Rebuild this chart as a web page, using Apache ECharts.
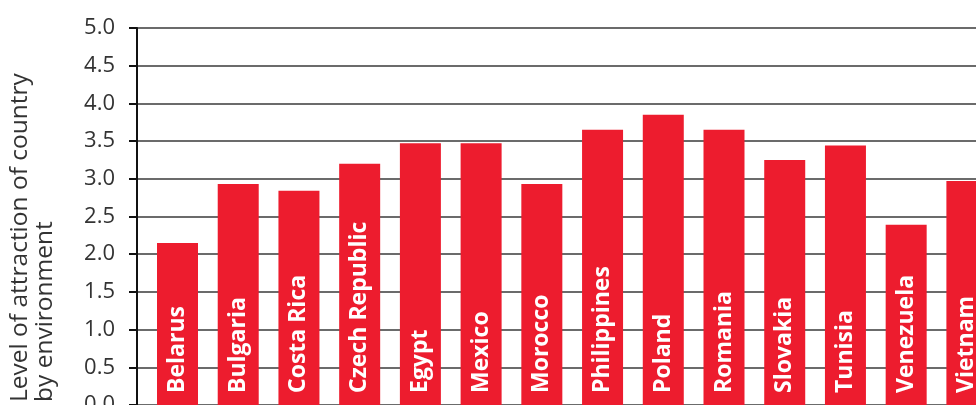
<!DOCTYPE html>
<html>
<head>
<meta charset="utf-8">
<script src="https://cdn.jsdelivr.net/npm/echarts@6/dist/echarts.min.js"></script>
<style>
    html, body { margin: 0; padding: 0; background: #fff; }
    #chart { width: 976px; height: 405px; }
</style>
</head>
<body>
<div id="chart"></div>
<script>
// Data
const countries = ['Belarus', 'Bulgaria', 'Costa Rica', 'Czech Republic', 'Egypt', 'Mexico', 'Morocco',
    'Philippines', 'Poland', 'Romania', 'Slovakia', 'Tunisia', 'Venezuela', 'Vietnam'];
const attraction = [2.15, 2.93, 2.84, 3.20, 3.47, 3.47, 2.93, 3.65, 3.85, 3.65, 3.25, 3.44, 2.39, 2.97];
const yTitle = ['Level of attraction of country', 'by environment'];

const barColor = '#ed1c2e';
const textColor = '#333';
const fontFamily = '"Open Sans", "Noto Sans", sans-serif';

let myChart = echarts.init(document.getElementById('chart'));

const option = {
    backgroundColor: '#fff',
    animation: false,
    grid: { left: 137, right: 0, top: 28, bottom: 0, containLabel: false, outerBoundsMode: 'none' },
    graphic: [{
        type: 'text',
        x: 8,
        y: 402,
        rotation: Math.PI / 2,
        style: {
            text: yTitle.join('\n'),
            fill: textColor,
            font: '24.5px ' + fontFamily,
            lineHeight: 25,
            align: 'left',
            verticalAlign: 'top'
        }
    }],
    xAxis: {
        type: 'value',
        min: -0.667,
        max: 13.15,
        show: false
    },
    yAxis: {
        type: 'value',
        min: 0,
        max: 5,
        interval: 0.5,
        axisLine: { show: true, onZero: false, lineStyle: { color: '#111', width: 2 } },
        axisTick: { show: true, length: 8, lineStyle: { color: '#111', width: 2 } },
        axisLabel: {
            margin: 22,
            color: textColor,
            fontSize: 22,
            fontFamily: fontFamily,
            formatter: v => v.toFixed(1)
        },
        splitLine: { show: true, lineStyle: { color: '#3a3a3a', width: 1.6 } }
    },
    series: [{
        type: 'bar',
        barWidth: 41,
        data: attraction.map((v, i) => [i, v]),
        itemStyle: { color: barColor },
        label: {
            show: true,
            position: 'insideBottom',
            rotate: 90,
            align: 'left',
            verticalAlign: 'middle',
            distance: 12,
            color: '#fff',
            fontWeight: 'bold',
            fontSize: 23,
            fontFamily: fontFamily,
            formatter: p => countries[p.dataIndex]
        }
    }]
};

myChart.setOption(option, true);
window.onresize = function() {
    myChart.resize();
};
</script>
</body>
</html>
